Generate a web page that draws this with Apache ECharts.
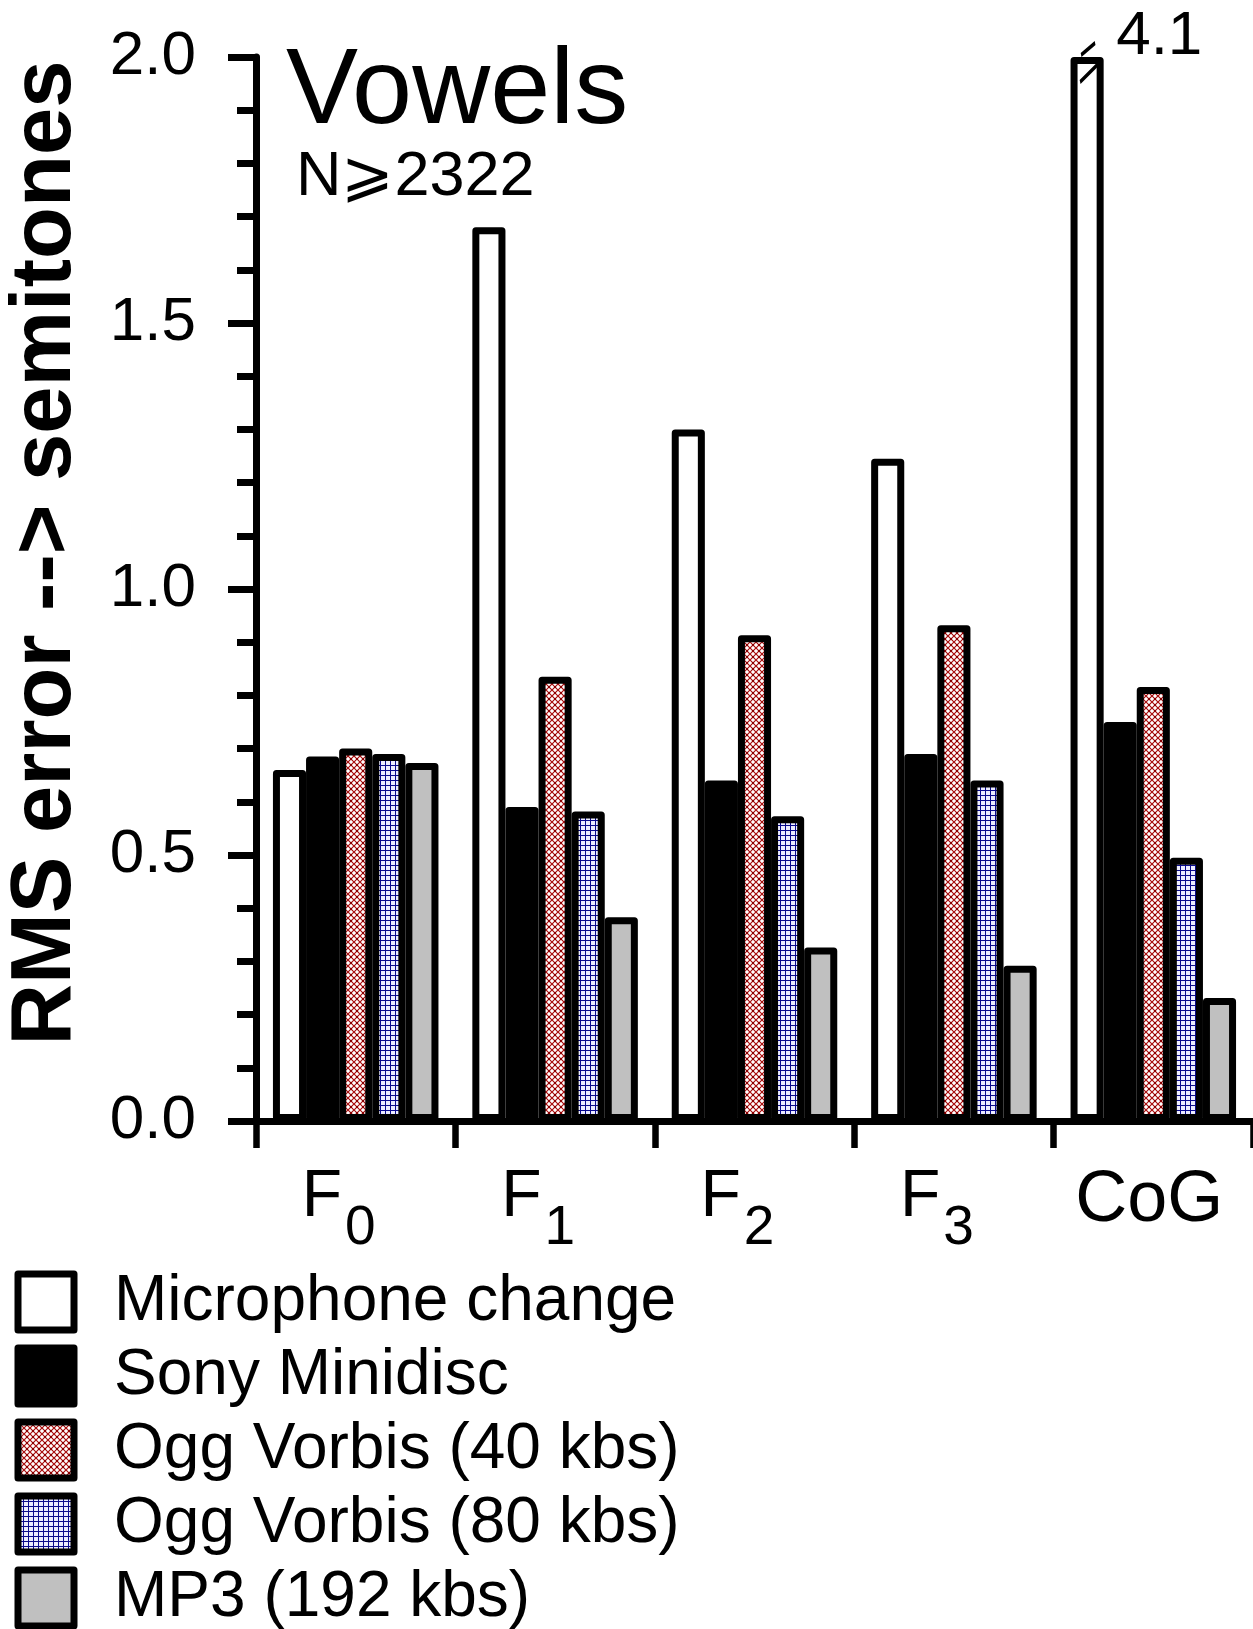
<!DOCTYPE html>
<html>
<head>
<meta charset="utf-8">
<script src="https://cdn.jsdelivr.net/npm/echarts@6/dist/echarts.min.js"></script>
<style>
  html, body { margin: 0; padding: 0; background: #fff; }
  #chart { width: 1253px; height: 1629px; }
</style>
</head>
<body>
<div id="chart"></div>
<script>
// ---- data ----
const categories = ['F0', 'F1', 'F2', 'F3', 'CoG'];
const seriesNames = ['Microphone change', 'Sony Minidisc', 'Ogg Vorbis (40 kbs)', 'Ogg Vorbis (80 kbs)', 'MP3 (192 kbs)'];
const micValues   = [0.66, 1.68, 1.30, 1.245, 4.1];
const sonyValues  = [0.685, 0.59, 0.64, 0.69, 0.75];
const ogg40Values = [0.70, 0.835, 0.913, 0.932, 0.816];
const ogg80Values = [0.69, 0.582, 0.573, 0.64, 0.495];
const mp3Values   = [0.673, 0.383, 0.326, 0.292, 0.231];
const yMin = 0, yMax = 2.0, yInterval = 0.5;
const titleText = 'Vowels';
const subtitleText = 'N\u2A7E2322';
const yAxisTitle = 'RMS error --> semitones';

// ---- patterns ----
function makeCrossHatch() {
  const c = document.createElement('canvas');
  c.width = 6; c.height = 6;
  const g = c.getContext('2d');
  g.fillStyle = '#ffffff'; g.fillRect(0, 0, 6, 6);
  g.strokeStyle = '#a80c0c'; g.lineWidth = 1.2;
  g.beginPath();
  g.moveTo(-1, -1); g.lineTo(7, 7);
  g.moveTo(-1, 7); g.lineTo(7, -1);
  g.stroke();
  g.fillStyle = '#8a0000';
  g.fillRect(2, 2, 2, 2);
  return { image: c, repeat: 'repeat' };
}
function makeGrid() {
  const c = document.createElement('canvas');
  c.width = 5; c.height = 5;
  const g = c.getContext('2d');
  g.fillStyle = '#ececff'; g.fillRect(0, 0, 5, 5);
  g.fillStyle = '#0a0a8c';
  g.fillRect(0, 0, 1, 5);
  g.fillRect(0, 0, 5, 1);
  return { image: c, repeat: 'repeat' };
}

const fills = ['#ffffff', '#000000', makeCrossHatch(), makeGrid(), '#c0c0c0'];
const valueLists = [micValues, sonyValues, ogg40Values, ogg80Values, mp3Values];
const FONT = 'Liberation Sans, Arial, sans-serif';

const series = valueLists.map((vals, si) => {
  const s = {
    name: seriesNames[si],
    type: 'bar',
    barGap: '0%',
    barCategoryGap: '17%',
    clip: false,
    itemStyle: { color: fills[si], borderColor: '#000', borderWidth: 7, borderJoin: 'round' },
    emphasis: { disabled: true },
    data: vals.map(v => Math.min(v, yMax))
  };
  const broken = [];
  vals.forEach((v, i) => {
    if (v > yMax) broken.push({ coord: [categories[i], yMax], value: v });
  });
  if (broken.length) {
    s.markPoint = {
      silent: true,
      symbol: 'path://M2 14 L16 2 M1 41 L20 22',
      symbolSize: [19, 39],
      symbolOffset: [2.5, 5.5],
      itemStyle: { color: 'transparent', borderColor: '#000', borderWidth: 3 },
      label: {
        show: true, position: 'right', distance: 16, offset: [0, -26],
        formatter: p => String(p.value),
        color: '#000', fontSize: 62, fontFamily: FONT
      },
      data: broken
    };
  }
  return s;
});

const chart = echarts.init(document.getElementById('chart'), null, { renderer: 'canvas' });
chart.setOption({
  animation: false,
  backgroundColor: '#ffffff',
  title: [
    {
      text: titleText,
      left: 286, top: 39, padding: 0,
      textStyle: { fontFamily: FONT, fontSize: 108, fontWeight: 'normal', color: '#000', lineHeight: 108 }
    },
    {
      text: subtitleText,
      left: 296, top: 146, padding: 0,
      textStyle: { fontFamily: FONT, fontSize: 63, fontWeight: 'normal', color: '#000', lineHeight: 63 }
    }
  ],
  graphic: [{
    type: 'text',
    x: 47, y: 553,
    rotation: Math.PI / 2,
    silent: true,
    style: {
      text: yAxisTitle,
      font: 'bold 85px ' + FONT,
      fill: '#000',
      textAlign: 'center',
      textVerticalAlign: 'middle'
    }
  }],
  legend: {
    orient: 'vertical', left: 14.5, top: 1270, height: 420, padding: 0,
    itemWidth: 56, itemHeight: 56, itemGap: 10,
    icon: 'rect',
    itemStyle: { borderColor: '#000', borderWidth: 7, borderJoin: 'round' },
    textStyle: { fontFamily: FONT, fontSize: 64, color: '#000', lineHeight: 56, padding: [0, 0, 0, 35] },
    data: seriesNames
  },
  grid: { left: 256, right: 0, top: 57, bottom: 508, containLabel: false },
  xAxis: {
    type: 'category',
    data: categories,
    axisLine: { lineStyle: { color: '#000', width: 7 } },
    axisTick: { show: true, length: 27, lineStyle: { color: '#000', width: 6.5 } },
    axisLabel: {
      margin: 44,
      formatter: v => {
        const m = /^F(\d)$/.exec(v);
        return m ? '{a|F}{b|' + m[1] + '}' : '{c|' + v + '}';
      },
      rich: {
        a: { fontFamily: FONT, fontSize: 66, lineHeight: 70, color: '#000', verticalAlign: 'top' },
        b: { fontFamily: FONT, fontSize: 55, lineHeight: 60, color: '#000', verticalAlign: 'top', padding: [36, 34, 0, 3] },
        c: { fontFamily: FONT, fontSize: 72, lineHeight: 70, color: '#000', verticalAlign: 'top', padding: [0, 8, 0, 0] }
      }
    }
  },
  yAxis: {
    type: 'value',
    min: yMin, max: yMax, interval: yInterval,
    axisLine: { show: true, lineStyle: { color: '#000', width: 7 } },
    axisTick: { show: true, length: 28, lineStyle: { color: '#000', width: 7 } },
    minorTick: { show: true, splitNumber: 5, length: 19, lineStyle: { color: '#000', width: 7 } },
    splitLine: { show: false },
    axisLabel: {
      margin: 60,
      formatter: v => v.toFixed(1),
      fontFamily: FONT, fontSize: 62, color: '#000'
    }
  },
  series: series
});
</script>
</body>
</html>
